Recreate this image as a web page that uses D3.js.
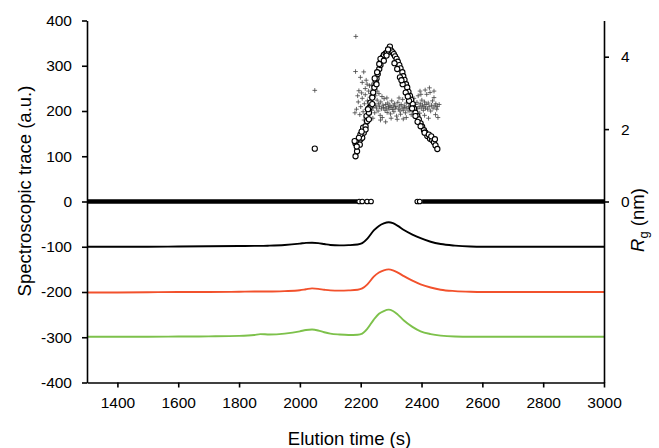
<!DOCTYPE html>
<html>
<head>
<meta charset="utf-8">
<style>
  body { margin: 0; background: #fff; }
  text { font-family: "Liberation Sans", Arial, sans-serif; }
</style>
</head>
<body>
<script src="https://d3js.org/d3.v7.min.js"></script>
<script>
// elution times (s) for the spectroscopic traces
var traceTimes = [1300, 1400, 1500, 1600, 1700, 1800, 1850, 1870, 1900, 1950, 2000, 2020, 2040, 2060, 2080, 2100, 2130, 2160, 2190,
  2205, 2222, 2243, 2260, 2276, 2292, 2306, 2322, 2342, 2370, 2397, 2430, 2463, 2510, 2561, 2600, 2700, 2800, 2900, 3000];
var blackTrace = [-100, -100, -100, -99.5, -99, -98.5, -98, -98, -97.5, -96, -93, -91.5, -91, -92, -94, -96, -97, -96.5, -95,
  -92, -82, -64, -54, -48.5, -46, -48, -54, -63, -73, -81, -89, -94, -97.5, -99.5, -100, -100, -100, -100, -100];
var redTrace = [-201, -201, -200.5, -200, -200, -199.5, -199, -199, -199, -198, -196, -194, -192, -193, -195, -196.5, -197, -196.5, -195,
  -192, -183, -166, -157, -152, -150, -152, -157, -165, -175, -183, -190, -195, -198, -199.5, -200, -200, -200, -200, -200];
var greenTrace = [-299, -299, -299, -298.5, -298, -297, -295, -293, -294, -292, -287, -284, -283, -285, -289, -292, -294, -295, -294.5,
  -292, -281, -261, -248, -242, -239, -242, -250, -263, -277, -287, -293, -296.5, -298.5, -299, -299, -299, -299, -299, -299];

// stretches of the run where Rg came out as 0
var zeroSpans = [[1300, 2188], [2402, 3000]];
var zeroCircles = [2195, 2205, 2221, 2234, 2386, 2394];

// Rg (nm), open circles
var rgCircles = [[2049, 1.46],
  [2183, 1.25], [2188, 1.39], [2183, 1.60], [2190, 1.67], [2199, 1.71], [2197, 1.57], [2205, 1.76], [2210, 1.90], [2208, 2.04],
  [2216, 2.08], [2221, 2.22], [2219, 2.36], [2227, 2.45], [2229, 2.59], [2232, 2.73], [2238, 2.87], [2241, 3.01], [2245, 3.15],
  [2249, 3.29], [2252, 3.40], [2256, 3.52], [2261, 3.66], [2265, 3.77], [2268, 3.89], [2272, 3.98], [2276, 4.05], [2282, 4.09],
  [2287, 4.12], [2293, 4.14], [2296, 4.28], [2300, 4.17], [2305, 4.12], [2309, 4.07], [2313, 4.01], [2318, 3.94], [2322, 3.86],
  [2327, 3.77], [2331, 3.68], [2337, 3.57], [2340, 3.46], [2344, 3.36], [2349, 3.24], [2353, 3.15], [2357, 3.03], [2362, 2.92],
  [2366, 2.81], [2371, 2.69], [2375, 2.57], [2380, 2.45], [2386, 2.36], [2391, 2.27], [2397, 2.16], [2402, 2.07], [2408, 1.97],
  [2413, 1.90], [2419, 1.81], [2428, 1.73], [2435, 1.70], [2441, 1.64], [2446, 1.55], [2452, 1.45],
  [2320, 3.66], [2329, 3.43], [2338, 3.24], [2348, 3.01], [2359, 2.78], [2369, 2.57], [2380, 2.36], [2397, 2.08], [2410, 1.90],
  [2424, 1.85], [2265, 3.94], [2276, 3.89], [2285, 4.03], [2261, 3.80], [2254, 3.57], [2252, 3.24], [2238, 2.69], [2227, 2.27],
  [2216, 1.99], [2199, 1.85], [2194, 1.76], [2180, 1.67], [2187, 1.52], [2203, 1.93], [2224, 2.55], [2246, 3.40], [2290, 4.20],
  [2311, 3.82], [2334, 3.35], [2355, 2.90], [2387, 2.20], [2432, 1.80], [2444, 1.72]];

// Rg (nm), plus markers
var rgPlus = [[2049, 3.07], [2184, 4.56], [2183, 3.59], [2210, 3.58], [2199, 3.43], [2205, 3.29], [2194, 3.06], [2190, 2.92],
  [2221, 3.24], [2186, 2.55], [2192, 2.75], [2181, 2.45], [2215, 3.12], [2226, 3.05], [2232, 2.98], [2240, 3.10], [2248, 2.92],
  [2260, 2.98], [2229, 3.20], [2203, 3.00],
  [2200, 2.62], [2205, 2.85], [2208, 2.48], [2212, 2.70], [2215, 2.95], [2218, 2.55], [2222, 2.78], [2225, 2.62], [2228, 2.40],
  [2230, 2.88], [2233, 2.68], [2236, 2.52], [2238, 2.74], [2241, 2.60], [2244, 2.95], [2246, 2.45], [2249, 2.66], [2252, 2.58],
  [2254, 2.80], [2257, 2.50], [2259, 2.70], [2262, 2.62], [2264, 2.38], [2266, 2.75], [2268, 2.56], [2271, 2.32], [2273, 2.66],
  [2275, 2.60], [2277, 2.84], [2280, 2.52], [2282, 2.68], [2284, 2.58], [2287, 2.46], [2289, 2.72], [2291, 2.62], [2293, 2.55],
  [2296, 2.66], [2298, 2.42], [2300, 2.60], [2302, 2.78], [2305, 2.54], [2307, 2.64], [2309, 2.48], [2311, 2.70], [2314, 2.58],
  [2316, 2.62], [2318, 2.36], [2320, 2.27], [2322, 2.74], [2325, 2.55], [2327, 2.64], [2329, 2.50], [2331, 2.41], [2333, 2.68],
  [2336, 2.58], [2338, 2.82], [2340, 2.52], [2343, 2.64], [2345, 2.60], [2347, 2.45], [2350, 2.72], [2352, 2.56], [2354, 2.88],
  [2357, 2.62], [2359, 2.50], [2361, 2.70], [2364, 2.58], [2366, 2.40], [2368, 2.76], [2371, 2.64], [2373, 2.52], [2375, 2.85],
  [2378, 2.60], [2380, 2.68], [2382, 2.48], [2385, 2.74], [2387, 2.56], [2389, 2.92], [2392, 2.62], [2394, 2.44], [2396, 2.70],
  [2399, 2.58], [2401, 2.80], [2403, 2.66], [2406, 2.52], [2408, 2.62], [2410, 2.75], [2413, 2.58], [2415, 2.68], [2417, 2.96],
  [2420, 2.55], [2422, 2.72], [2425, 2.62], [2428, 3.01], [2430, 2.50], [2433, 2.66], [2436, 2.78], [2438, 2.58], [2441, 2.87],
  [2444, 2.64], [2447, 2.70], [2450, 2.55], [2452, 2.62], [2454, 2.32], [2458, 2.68], [2240, 2.30], [2265, 2.25], [2300, 2.30],
  [2350, 2.32], [2380, 2.35], [2410, 2.38], [2441, 3.05], [2412, 3.08], [2395, 3.05], [2218, 3.35], [2236, 3.22], [2254, 3.05],
  [2270, 2.90], [2286, 2.86], [2326, 2.86], [2362, 2.90], [2398, 2.96], [2426, 3.14], [2446, 2.40], [2423, 2.30], [2340, 2.28],
  [2282, 2.20], [2211, 2.25], [2197, 2.40]];

var xTicks = [1400, 1600, 1800, 2000, 2200, 2400, 2600, 2800, 3000];
var yTicks = [-400, -300, -200, -100, 0, 100, 200, 300, 400];
var rgTicks = [0, 2, 4];

var width = 659, height = 448;
var plotLeft = 87, plotRight = 604, plotTop = 20.5, plotBottom = 382.5;

var svg = d3.select("body").append("svg")
  .attr("width", width)
  .attr("height", height);

var x = d3.scaleLinear().domain([1300, 3000]).range([plotLeft, plotRight]);
var y = d3.scaleLinear().domain([-400, 400]).range([plotBottom, plotTop]);
var yRg = d3.scaleLinear().domain([-5, 5]).range([plotBottom, plotTop]);

// traces
var line = d3.line()
  .x(function(d) { return x(d[0]); })
  .y(function(d) { return y(d[1]); })
  .curve(d3.curveMonotoneX);

var traces = [[blackTrace, "#000000"], [redTrace, "#f2512c"], [greenTrace, "#7dc14b"]];
traces.forEach(function(tr) {
  svg.append("path")
    .datum(traceTimes.map(function(t, i) { return [t, tr[0][i]]; }))
    .attr("d", line)
    .attr("fill", "none")
    .attr("stroke", tr[1])
    .attr("stroke-width", 1.9);
});

// Rg = 0 stretches
zeroSpans.forEach(function(s) {
  svg.append("line")
    .attr("x1", x(s[0])).attr("x2", x(s[1]))
    .attr("y1", yRg(0)).attr("y2", yRg(0))
    .attr("stroke", "#000")
    .attr("stroke-width", 4.5);
});
svg.selectAll(".zc").data(zeroCircles).enter().append("circle")
  .attr("class", "zc")
  .attr("cx", function(d) { return x(d); })
  .attr("cy", yRg(0))
  .attr("r", 2.3)
  .attr("fill", "#fff")
  .attr("stroke", "#000")
  .attr("stroke-width", 1.1);

// plus markers
svg.selectAll(".plus").data(rgPlus).enter().append("path")
  .attr("class", "plus")
  .attr("d", function(d) {
    var cx = x(d[0]), cy = yRg(d[1]), s = 2.3;
    return "M" + (cx - s) + "," + cy + "H" + (cx + s) + "M" + cx + "," + (cy - s) + "V" + (cy + s);
  })
  .attr("stroke", "#444")
  .attr("stroke-width", 0.8);

// open circles
svg.selectAll(".rgc").data(rgCircles).enter().append("circle")
  .attr("class", "rgc")
  .attr("cx", function(d) { return x(d[0]); })
  .attr("cy", function(d) { return yRg(d[1]); })
  .attr("r", 2.6)
  .attr("fill", "#fff")
  .attr("stroke", "#000")
  .attr("stroke-width", 1.1);

// axes
function styleAxis(g) {
  g.selectAll(".domain").attr("stroke", "#000").attr("stroke-width", 1.6);
  g.selectAll(".tick line").attr("stroke", "#000").attr("stroke-width", 1.6);
  g.selectAll(".tick text").attr("fill", "#000")
    .style("font-family", "'Liberation Sans', Arial, sans-serif")
    .style("font-size", "15.5px");
}
var plain = function(d) { return String(d); };

var gx = svg.append("g")
  .attr("transform", "translate(0," + plotBottom + ")")
  .call(d3.axisBottom(x).tickValues(xTicks).tickFormat(plain)
    .tickSize(5).tickSizeOuter(0).tickPadding(9));
styleAxis(gx);

var gy = svg.append("g")
  .attr("transform", "translate(" + plotLeft + ",0)")
  .call(d3.axisLeft(y).tickValues(yTicks).tickFormat(plain)
    .tickSize(5).tickSizeOuter(0).tickPadding(10));
styleAxis(gy);

var gr = svg.append("g")
  .attr("transform", "translate(" + plotRight + ",0)")
  .call(d3.axisRight(yRg).tickValues(rgTicks).tickFormat(plain)
    .tickSize(5).tickSizeOuter(0).tickPadding(12));
styleAxis(gr);

// axis titles
svg.append("text")
  .attr("x", (plotLeft + plotRight) / 2 + 4)
  .attr("y", 445)
  .attr("text-anchor", "middle")
  .style("font-size", "18.5px")
  .text("Elution time (s)");

svg.append("text")
  .attr("transform", "translate(31,191) rotate(-90)")
  .attr("text-anchor", "middle")
  .style("font-size", "18.5px")
  .text("Spectroscopic trace (a.u.)");

var rgLabel = svg.append("text")
  .attr("transform", "translate(644,220) rotate(-90)")
  .attr("text-anchor", "middle")
  .style("font-size", "18.5px");
rgLabel.append("tspan").style("font-style", "italic").text("R");
rgLabel.append("tspan").attr("dy", 4).style("font-size", "13px").text("g");
rgLabel.append("tspan").attr("dy", -4).text(" (nm)");
</script>
</body>
</html>
